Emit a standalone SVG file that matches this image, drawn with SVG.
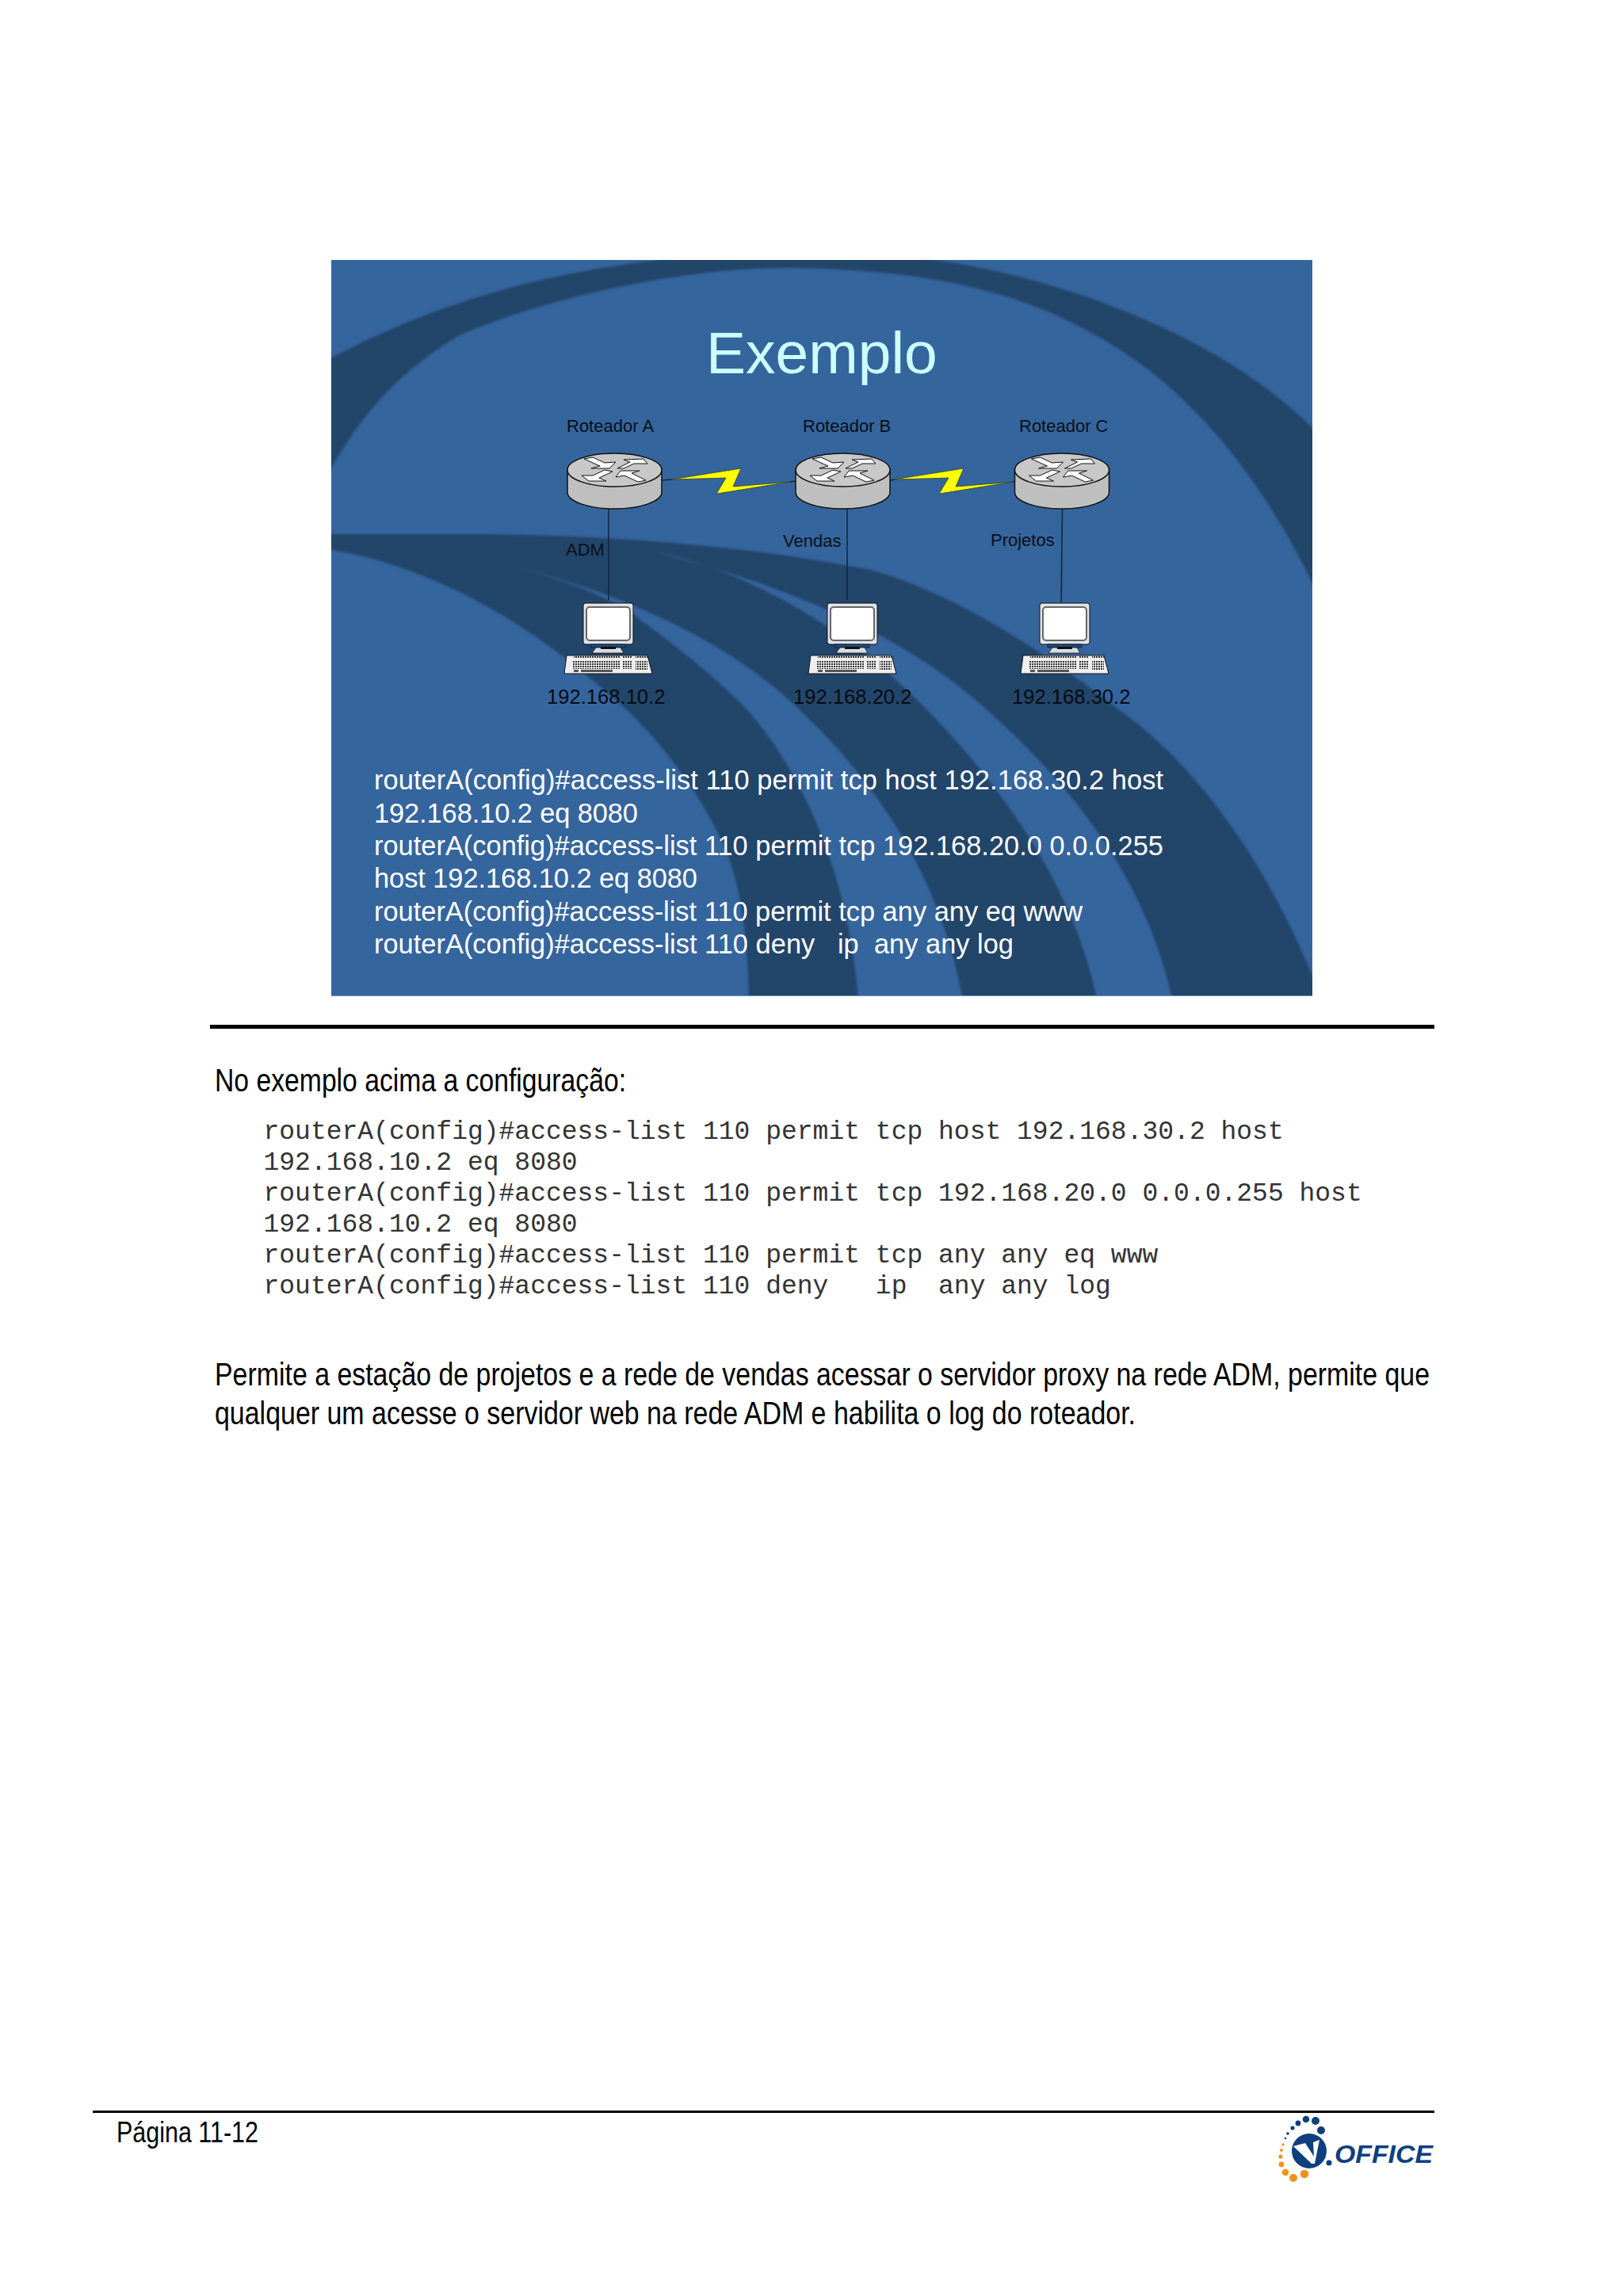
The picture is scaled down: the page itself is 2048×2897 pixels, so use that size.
<svg xmlns="http://www.w3.org/2000/svg" width="2048" height="2897" viewBox="0 0 2048 2897">
<style>
.s{font-family:"Liberation Sans",Arial,sans-serif}
.l{font-size:22px;fill:#0a0f18}
.ip{font-size:25.6px;fill:#050a12}
.b{font-size:34.4px;fill:#fff}
.m{font-family:"Liberation Mono","Courier New",monospace;font-size:33px;fill:#333}
.d{font-size:40px;fill:#000}
.k{stroke:#111;stroke-width:1.5}
.w{stroke:#14243c;stroke-width:1.5;fill:none}
</style>
<defs>
<clipPath id="slideclip"><rect x="418" y="328" width="1238" height="929"/></clipPath>
<filter id="soft" x="-5%" y="-5%" width="110%" height="110%"><feGaussianBlur stdDeviation="1.5"/></filter>
<pattern id="keys" width="3" height="3" patternUnits="userSpaceOnUse"><rect width="3" height="3" fill="#eee"/><rect width="2" height="2" fill="#333"/></pattern>
<g id="router">
<path class="k" fill="#c0bfc0" d="M716,593V621A59.5,21 0 0 0 835,621V593Z"/>
<ellipse class="k" cx="775.5" cy="593" rx="59.5" ry="21" fill="#c9c8c9"/>
<g fill="#fff" stroke="#111" stroke-width="1">
<polygon points="737,579 748,577 763,584 777,583 769,591 746,591 757,588"/>
<polygon points="779,591 795,583 787,580 812,579 817,585 800,585 787,591"/>
<polygon points="734,600 743,607 765,607 756,603 773,595 763,593 748,600"/>
<polygon points="777,602 783,594 807,594 797,597 815,606 805,608 788,600"/>
</g>
</g>
<g id="computer">
<rect x="736" y="761" width="63" height="52" rx="3" fill="#dfe3ea" stroke="#111" stroke-width="1"/>
<rect x="740" y="766" width="55" height="42" rx="4" fill="#fff" stroke="#666" stroke-width="2"/>
<rect x="746" y="813" width="43" height="4" fill="#1f4a7c" stroke="#12253f" stroke-width="1"/>
<polygon points="752,817 783,817 787,824 747,824" fill="#d9dde2" stroke="#111" stroke-width=".8"/>
<rect x="758" y="816" width="19" height="3" fill="#111"/>
<polygon points="715,827 817,827 823,850 712,850" fill="#eee" stroke="#111" stroke-width="1"/>
<rect x="724" y="828" width="58" height="3" fill="url(#keys)"/>
<rect x="786" y="828" width="11" height="3" fill="url(#keys)"/>
<rect x="802" y="828" width="15" height="3" fill="url(#keys)"/>
<rect x="723" y="833" width="59" height="11" fill="url(#keys)"/>
<rect x="786" y="833" width="11" height="11" fill="url(#keys)"/>
<rect x="802" y="833" width="15" height="12" fill="url(#keys)"/>
<rect x="733" y="845" width="40" height="3" fill="#555"/>
<rect x="724" y="845" width="6" height="3" fill="#555"/>
</g>
</defs>
<rect width="2048" height="2897" fill="#fff"/>
<g id="slide-background" clip-path="url(#slideclip)">
<rect x="418" y="328" width="1238" height="929" fill="#35659d"/>
<g filter="url(#soft)">
<path fill="#24446b" d="M410,456C540,385 700,335 900,322L1100,320C1300,330 1550,420 1670,555L1670,765C1590,590 1490,480 1377,420C1280,365 1160,340 1000,338C870,336 690,375 580,423C500,470 450,530 410,605Z"/>
<path fill="#24446b" d="M410,674L621,674C780,676 950,690 1099,719C1210,750 1330,830 1435,913C1530,990 1610,1110 1670,1265V1275H945C945,1190 935,1120 917,1075C885,1000 830,930 779,885C700,815 600,740 463,703Q440,698 410,692Z"/>
<path fill="#35659d" d="M640,712C700,728 760,748 799,775C860,820 910,860 947,900C1020,985 1075,1120 1084,1275H1217C1195,1130 1120,1000 1013,900C950,835 830,760 640,712Z"/>
<path fill="#35659d" d="M820,695C950,720 1080,800 1179,905C1260,990 1360,1120 1387,1275H1482C1450,1110 1350,990 1250,900C1170,825 1040,750 820,695Z"/>
</g>
<rect x="418" y="1256" width="1238" height="1" fill="#6a90bb"/>
</g>
<g id="connectors">
<path class="w" d="M768,642V757M1069,642V757M1340.500,642L1339,767M835,606L848,605M997,608L1004,607M1124,606L1129,605M1278,608L1280,607"/>
<g fill="#ffff00" stroke="#33401c" stroke-width=".8">
<polygon points="847,605 935,591 925,614 997,608 904,623 916,603"/>
<polygon points="1128,605 1216,591 1206,614 1278,608 1185,623 1197,603"/>
</g>
</g>
<g id="router-a"><use href="#router"/><text class="s l" x="715" y="545">Roteador A</text></g>
<g id="router-b"><use href="#router" x="288"/><text class="s l" x="1013" y="545">Roteador B</text></g>
<g id="router-c"><use href="#router" x="564.500"/><text class="s l" x="1286" y="545">Roteador C</text></g>
<g id="pc-a"><use href="#computer"/><text class="s ip" x="690" y="888">192.168.10.2</text></g>
<g id="pc-b"><use href="#computer" x="308"/><text class="s ip" x="1001" y="888">192.168.20.2</text></g>
<g id="pc-c"><use href="#computer" x="576"/><text class="s ip" x="1277" y="888">192.168.30.2</text></g>
<g id="labels">
<text class="s l" x="714" y="701">ADM</text>
<text class="s l" x="988" y="690">Vendas</text>
<text class="s l" x="1250" y="689">Projetos</text>
<text class="s" x="891" y="471" font-size="75" fill="#ccffff">Exemplo</text>
</g>
<g id="slide-text">
<text class="s b" x="472" y="996" textLength="996">routerA(config)#access-list 110 permit tcp host 192.168.30.2 host</text>
<text class="s b" x="472" y="1038" textLength="333">192.168.10.2 eq 8080</text>
<text class="s b" x="472" y="1079" textLength="996">routerA(config)#access-list 110 permit tcp 192.168.20.0 0.0.0.255</text>
<text class="s b" x="472" y="1120" textLength="408">host 192.168.10.2 eq 8080</text>
<text class="s b" x="472" y="1162" textLength="894">routerA(config)#access-list 110 permit tcp any any eq www</text>
<text class="s b" x="472" y="1203" textLength="807" xml:space="preserve">routerA(config)#access-list 110 deny   ip  any any log</text>
</g>
<rect id="rule-top" x="265" y="1293" width="1545" height="5" fill="#000"/>
<g id="document-text">
<text class="s d" x="271" y="1377" textLength="519" lengthAdjust="spacingAndGlyphs">No exemplo acima a configuração:</text>
<text class="m" x="332.500" y="1437">routerA(config)#access-list 110 permit tcp host 192.168.30.2 host</text>
<text class="m" x="332.500" y="1476">192.168.10.2 eq 8080</text>
<text class="m" x="332.500" y="1515">routerA(config)#access-list 110 permit tcp 192.168.20.0 0.0.0.255 host</text>
<text class="m" x="332.500" y="1554">192.168.10.2 eq 8080</text>
<text class="m" x="332.500" y="1593">routerA(config)#access-list 110 permit tcp any any eq www</text>
<text class="m" x="332.500" y="1632" xml:space="preserve">routerA(config)#access-list 110 deny   ip  any any log</text>
<text class="s d" x="271" y="1748" textLength="1533" lengthAdjust="spacingAndGlyphs">Permite a estação de projetos e a rede de vendas acessar o servidor proxy na rede ADM, permite que</text>
<text class="s d" x="271" y="1797" textLength="1162" lengthAdjust="spacingAndGlyphs">qualquer um acesse o servidor web na rede ADM e habilita o log do roteador.</text>
</g>
<g id="footer">
<rect x="117" y="2663" width="1693" height="3" fill="#000"/>
<text class="s" x="147" y="2703" font-size="36" fill="#000" textLength="179" lengthAdjust="spacingAndGlyphs">Página 11-12</text>
</g>
<g id="logo">
<circle cx="1652" cy="2714" r="22" fill="#0e3f7e"/>
<polygon points="1632,2708 1647,2704 1658,2721 1657,2703 1665,2700 1659,2730 1655,2730" fill="#fff"/>
<g fill="#0e3f7e">
<circle cx="1667" cy="2688" r="5"/><circle cx="1660" cy="2676" r="5"/><circle cx="1648" cy="2674" r="4.300"/><circle cx="1638" cy="2679" r="3.400"/><circle cx="1631" cy="2685" r="2.600"/><circle cx="1625" cy="2692" r="1.800"/><circle cx="1622" cy="2698" r="1.300"/><circle cx="1677" cy="2729" r="3.500"/>
</g>
<g fill="#f0921e">
<circle cx="1619" cy="2706" r="1.700"/><circle cx="1617" cy="2713" r="2"/><circle cx="1616" cy="2721" r="2.600"/><circle cx="1617" cy="2731" r="3.400"/><circle cx="1622" cy="2741" r="4.300"/><circle cx="1632" cy="2748" r="5"/><circle cx="1646" cy="2743" r="5.300"/>
</g>
<text class="s" x="1684" y="2729" font-size="32" font-weight="700" font-style="italic" fill="#0e3f7e" textLength="124" lengthAdjust="spacingAndGlyphs">OFFICE</text>
</g>
</svg>
